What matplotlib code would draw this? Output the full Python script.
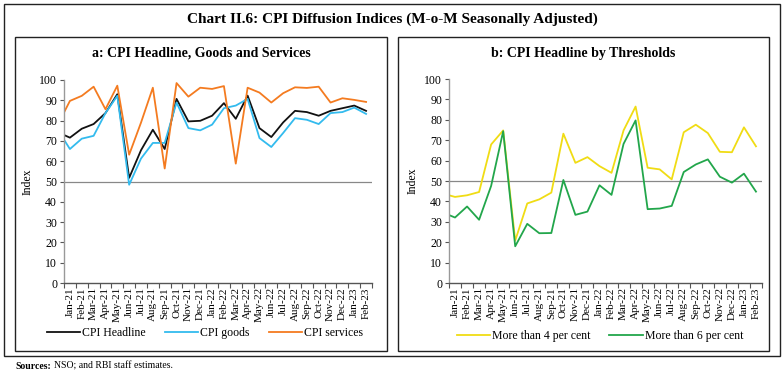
import numpy as np
import matplotlib
matplotlib.use("Agg")
from matplotlib import pyplot as plt
from matplotlib.patches import Rectangle

plt.rcParams["font.family"] = ["Liberation Serif", "DejaVu Serif"]

months = ["Jan-21", "Feb-21", "Mar-21", "Apr-21", "May-21", "Jun-21", "Jul-21", "Aug-21",
          "Sep-21", "Oct-21", "Nov-21", "Dec-21", "Jan-22", "Feb-22", "Mar-22", "Apr-22",
          "May-22", "Jun-22", "Jul-22", "Aug-22", "Sep-22", "Oct-22", "Nov-22", "Dec-22",
          "Jan-23", "Feb-23"]

# first value of each series is the lead-in point sitting on the y axis
headline = [72.9, 71.6, 76.0, 78.3, 83.7, 93.0, 51.8, 65.4, 75.5, 66.0, 90.7, 79.6, 79.9,
            82.4, 88.6, 80.9, 92.3, 76.3, 71.9, 79.1, 84.8, 84.2, 82.4, 84.8, 86.1, 87.4, 84.8]
goods = [70.6, 66.0, 71.1, 72.5, 83.7, 92.2, 48.4, 61.3, 69.0, 69.0, 88.9, 76.3, 75.2,
         78.0, 86.1, 87.4, 90.7, 71.4, 67.0, 73.9, 81.2, 80.4, 78.3, 83.7, 84.2, 86.4, 83.3]
services = [84.0, 89.7, 92.2, 96.7, 85.6, 97.2, 63.2, 79.0, 96.2, 56.4, 98.5, 91.8, 96.2,
            95.6, 97.0, 58.8, 96.2, 93.8, 88.9, 93.5, 96.4, 96.1, 96.7, 88.9, 91.0, 90.2, 89.2]

above4 = [43.0, 42.2, 43.0, 44.6, 67.9, 74.8, 20.8, 39.0, 41.0, 44.3, 73.2, 58.9, 61.7,
          57.3, 54.0, 74.8, 86.5, 56.5, 55.7, 50.8, 73.9, 77.6, 73.5, 64.3, 64.1, 76.3, 67.0]
above6 = [33.3, 32.1, 37.5, 31.0, 47.6, 74.4, 18.0, 29.0, 24.4, 24.5, 50.5, 33.4, 35.0,
          47.9, 43.2, 68.2, 79.7, 36.2, 36.5, 37.8, 54.4, 58.1, 60.6, 52.1, 49.2, 53.6, 44.8]

W, H = 784, 384
fig = plt.figure(figsize=(W / 100, H / 100), dpi=100)


def box(x0, y0, x1, y1):
    # pixel box, top-left origin
    fig.patches.append(Rectangle((x0 / W, 1 - y1 / H), (x1 - x0) / W, (y1 - y0) / H,
                                 transform=fig.transFigure, fill=False,
                                 edgecolor="#222222", linewidth=1.0))


def add_ax(x0, x1, y0, y1):
    return fig.add_axes([x0 / W, 1 - y1 / H, (x1 - x0) / W, (y1 - y0) / H])


def style_axis(ax):
    x = np.arange(len(months))
    ax.set_xlim(-0.5, len(months) - 0.5)
    ax.set_ylim(0, 100)
    ax.set_yticks(range(0, 101, 10))
    ax.set_xticks(x)
    ax.set_xticklabels(months, rotation=90, fontsize=8)
    ax.set_xticks(np.arange(-0.5, len(months)), minor=True)
    ax.tick_params(axis="x", which="major", length=0, pad=3)
    ax.tick_params(axis="x", which="minor", length=3.5, color="#555555", width=0.8)
    ax.tick_params(axis="y", length=3, color="#555555", width=0.8, labelsize=8.5, pad=2)
    for s in ["top", "right"]:
        ax.spines[s].set_visible(False)
    ax.spines["left"].set_color("#999999")
    ax.spines["bottom"].set_color("#555555")
    ax.spines["left"].set_linewidth(1.0)
    ax.spines["bottom"].set_linewidth(1.0)
    ax.axhline(50, color="#888888", linewidth=0.9, zorder=1)
    ax.set_ylabel("Index", fontsize=8.5, labelpad=4)


xs = np.concatenate([[-0.5], np.arange(len(months))])

box(4, 4, 780, 356)
box(15, 37, 387, 351)
box(398, 37, 769, 351)

# panel a
ax1 = add_ax(64, 372, 80, 283)
style_axis(ax1)
ax1.plot(xs, headline, color="#111111", linewidth=1.3, label="CPI Headline")
ax1.plot(xs, goods, color="#33BBEE", linewidth=1.3, label="CPI goods")
ax1.plot(xs, services, color="#F47B20", linewidth=1.3, label="CPI services")
ax1.legend(loc="center", bbox_to_anchor=(205 / W, 1 - 333 / H), bbox_transform=fig.transFigure,
           ncol=3, frameon=False, fontsize=8.5, handlelength=2.8, handletextpad=0.2,
           columnspacing=1.6)

# panel b
ax2 = add_ax(449, 762, 79, 283)
style_axis(ax2)
ax2.plot(xs, above4, color="#F0DC14", linewidth=1.3, label="More than 4 per cent")
ax2.plot(xs, above6, color="#22A64B", linewidth=1.3, label="More than 6 per cent")
ax2.legend(loc="center", bbox_to_anchor=(600 / W, 1 - 336 / H), bbox_transform=fig.transFigure,
           ncol=2, frameon=False, fontsize=8.5, handlelength=2.8, handletextpad=0.2,
           columnspacing=1.6)

fig.text(392 / W, 1 - 19 / H, "Chart II.6: CPI Diffusion Indices (M-o-M Seasonally Adjusted)",
         ha="center", va="center", fontsize=11, fontweight="bold")
fig.text(201 / W, 1 - 53 / H, "a: CPI Headline, Goods and Services",
         ha="center", va="center", fontsize=10, fontweight="bold")
fig.text(583 / W, 1 - 53 / H, "b: CPI Headline by Thresholds",
         ha="center", va="center", fontsize=10, fontweight="bold")
fig.text(15 / W, 1 - 369 / H, "Sources:", ha="left", va="baseline", fontsize=7, fontweight="bold")
fig.text(54 / W, 1 - 369 / H, "NSO; and RBI staff estimates.", ha="left", va="baseline", fontsize=7)

fig.savefig("out.png", dpi=100)
